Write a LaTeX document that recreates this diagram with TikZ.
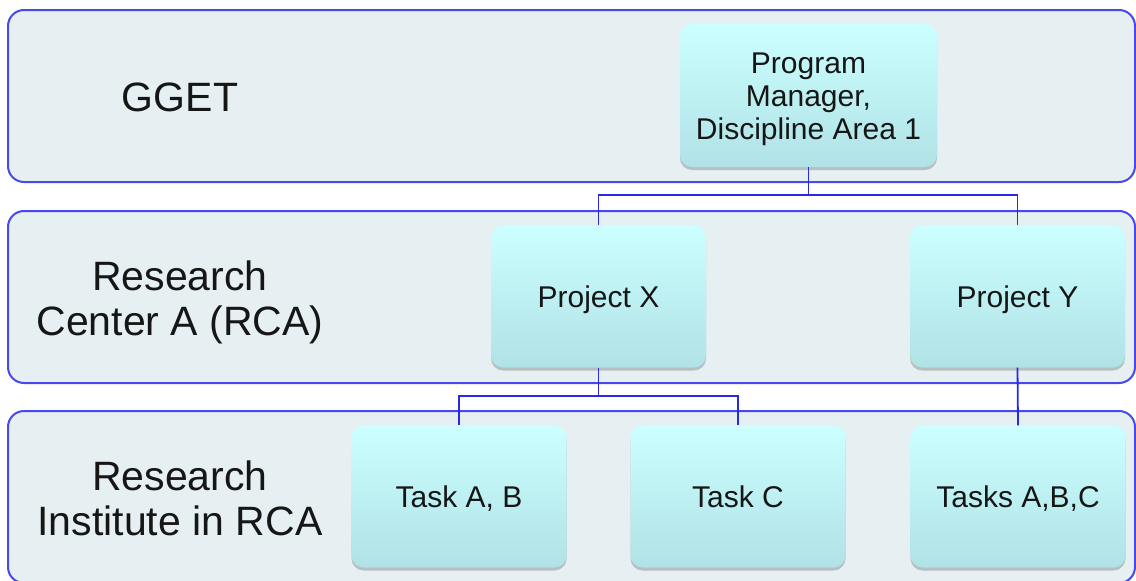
\documentclass[tikz,border=0pt]{standalone}
\usepackage{fontspec}
\setmainfont{Liberation Sans}
\usepackage{xcolor}
\usetikzlibrary{shadows}

\definecolor{bandline}{RGB}{72,72,238}
\definecolor{bandfill}{RGB}{230,240,243}
\definecolor{linkblue}{RGB}{40,40,232}
\definecolor{boxtop}{RGB}{204,255,255}
\definecolor{boxbot}{RGB}{176,226,230}
\definecolor{ink}{RGB}{22,22,22}

\tikzset{
 band/.style={draw=bandline, line width=2pt, fill=bandfill, rounded corners=16pt,
   minimum width=1127pt, minimum height=172pt, inner sep=0pt},
 level/.style={text=ink, align=center, text depth=0pt, font=\fontsize{41}{45}\selectfont},
 unit/.style={rounded corners=12pt, top color=boxtop, bottom color=boxbot,
   minimum width=215pt, minimum height=142pt, inner sep=0pt, text=ink, align=center,
   text height=21.5pt, text depth=0pt, font=\fontsize{30}{33}\selectfont,
   drop shadow={shadow xshift=0pt, shadow yshift=-3pt, opacity=0.35, fill=black!60}},
 link/.style={draw=linkblue, line width=1.8pt}
}

\begin{document}
\begin{tikzpicture}[x=1pt, y=-1pt]
 \useasboundingbox (0,0) rectangle (1136,581);
 \clip (0,0) rectangle (1136,581);
 \fill [white] (0,0) rectangle (1136,581);

 \node [band] (gget) at (571.5,96) {};
 \node [band] (rca) at (571.5,297) {};
 \node [band] (inst) at (571.5,497) {};

 \node [level] (ggetlabel) at (180,97) {GGET};
 \node [level] (rcalabel) at (180,298) {Research\\Center A (RCA)};
 \node [level] (instlabel) at (180,498) {Research\\Institute in RCA};

 \node [unit, minimum width=257pt, minimum height=143pt, text height=87.5pt] (pm) at (808.5,95.5) {Program\\Manager,\\Discipline Area 1};
 \node [unit] (projx) at (598.5,296.5) {Project X};
 \node [unit] (projy) at (1017.5,296.5) {Project Y};
 \node [unit] (taskab) at (459,496.5) {Task A, B};
 \node [unit] (taskc) at (738,496.5) {Task C};
 \node [unit] (taskabc) at (1018,496.5) {Tasks A,B,C};

 \coordinate (bustop) at (pm.south |- 0,195);
 \coordinate (busx) at (projx.south |- 0,396);
 \draw [link] (pm.south) -- (bustop) -| (projx.north);
 \draw [link] (bustop) -| (projy.north);
 \draw [link] (projx.south) -- (busx) -| (taskab.north);
 \draw [link] (busx) -| (taskc.north);
 \draw [link] (projy.south) -- (taskabc.north);
\end{tikzpicture}
\end{document}
